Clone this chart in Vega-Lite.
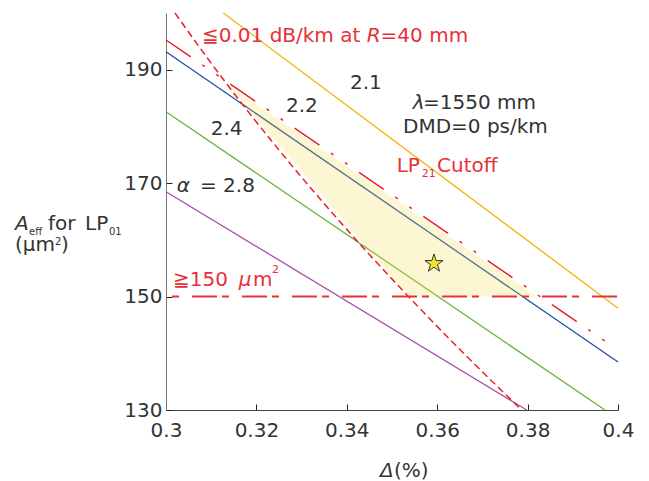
{
  "$schema": "https://vega.github.io/schema/vega-lite/v6.json",
  "width": 452,
  "height": 397,
  "autosize": {"type": "none"},
  "padding": {"left": 166, "top": 13, "right": 31, "bottom": 71},
  "background": "white",
  "config": {"view": {"stroke": null}, "font": "DejaVu Sans"},
  "datasets": {
    "lines": [
      {"series": "2.1", "x": 0.31268, "y": 200},
      {"series": "2.1", "x": 0.4, "y": 147.95},
      {"series": "2.2", "x": 0.3, "y": 193.18},
      {"series": "2.2", "x": 0.4, "y": 138.46},
      {"series": "2.4", "x": 0.3, "y": 182.6},
      {"series": "2.4", "x": 0.39712, "y": 130},
      {"series": "2.8", "x": 0.3, "y": 168.49},
      {"series": "2.8", "x": 0.3798, "y": 130}
    ],
    "bend": [
      {"x": 0.30199, "y": 200.0},
      {"x": 0.30947, "y": 191.72},
      {"x": 0.31668, "y": 184.14},
      {"x": 0.32499, "y": 175.85},
      {"x": 0.33429, "y": 167.03},
      {"x": 0.34409, "y": 158.21},
      {"x": 0.35365, "y": 150.0},
      {"x": 0.36513, "y": 140.58},
      {"x": 0.37869, "y": 130.0}
    ],
    "cutoff": [
      {"x": 0.3, "y": 195.24},
      {"x": 0.39786, "y": 141.76}
    ],
    "h150": [
      {"x": 0.3, "y": 150},
      {"x": 0.4, "y": 150}
    ],
    "region": [
      {"x": 0.31372, "y": 187.31, "y2": 187.31},
      {"x": 0.35365, "y": 165.5, "y2": 150},
      {"x": 0.38201, "y": 150, "y2": 150}
    ],
    "star": [{"x": 0.35929, "y": 155.83}],
    "txtBlack": [
      {"x": 0.34071, "y": 186.55, "t": "2.1"},
      {"x": 0.32655, "y": 182.6, "t": "2.2"},
      {"x": 0.30989, "y": 178.49, "t": "2.4"},
      {"x": 0.35686, "y": 183.02, "t": "=1550 mm"},
      {"x": 0.35243, "y": 178.79, "t": "DMD=0 ps/km"},
      {"x": 0.30752, "y": 168.49, "t": "= 2.8"},
      {"x": 0.27389, "y": 161.74, "t": "for"},
      {"x": 0.28208, "y": 161.74, "t": "LP"},
      {"x": 0.26659, "y": 158.04, "t": "(μm"},
      {"x": 0.27677, "y": 158.04, "t": ")"},
      {"x": 0.35044, "y": 118.24, "t": "(%)"}
    ],
    "txtBlackItalic": [
      {"x": 0.35458, "y": 183.02, "t": "λ"},
      {"x": 0.30237, "y": 168.49, "t": "α"},
      {"x": 0.26659, "y": 161.74, "t": "A"},
      {"x": 0.34735, "y": 118.24, "t": "Δ"}
    ],
    "txtBlackSmall": [
      {"x": 0.26969, "y": 160.86, "t": "eff"},
      {"x": 0.28739, "y": 160.86, "t": "01"},
      {"x": 0.27544, "y": 159.1, "t": "2"}
    ],
    "txtRed": [
      {"x": 0.30796, "y": 194.94, "t": "≦0.01 dB/km at"},
      {"x": 0.34748, "y": 194.94, "t": "=40 mm"},
      {"x": 0.35104, "y": 171.91, "t": "LP"},
      {"x": 0.35996, "y": 171.91, "t": "Cutoff"},
      {"x": 0.30155, "y": 151.92, "t": "≧150"},
      {"x": 0.31925, "y": 151.92, "t": "m"}
    ],
    "txtRedItalic": [
      {"x": 0.3444, "y": 194.94, "t": "R"},
      {"x": 0.31608, "y": 151.92, "t": "μ"}
    ],
    "txtRedSmall": [
      {"x": 0.35657, "y": 171.14, "t": "21"},
      {"x": 0.32345, "y": 154.1, "t": "2"}
    ]
  },
  "encoding": {
    "x": {
      "field": "x", "type": "quantitative",
      "scale": {"domain": [0.3, 0.4], "nice": false, "zero": false},
      "axis": {
        "title": null, "values": [0.3, 0.32, 0.34, 0.36, 0.38, 0.4], "format": "~g",
        "grid": false, "domainColor": "#444", "tickColor": "#222", "tickSize": -6,
        "labelFont": "DejaVu Sans", "labelFontSize": 20, "labelColor": "#333", "labelPadding": 16,
        "labelFlush": false, "labelOverlap": false
      }
    },
    "y": {
      "field": "y", "type": "quantitative",
      "scale": {"domain": [130, 200], "nice": false, "zero": false},
      "axis": {
        "title": null, "values": [130, 150, 170, 190],
        "grid": false, "domainColor": "#777", "tickColor": "#222", "tickSize": -6,
        "labelFont": "DejaVu Sans", "labelFontSize": 20, "labelColor": "#333", "labelPadding": 10,
        "labelFlush": false, "labelOverlap": false
      }
    }
  },
  "layer": [
    {
      "data": {"name": "lines"},
      "mark": {"type": "line", "strokeWidth": 1.3},
      "encoding": {
        "detail": {"field": "series"},
        "color": {"field": "series", "type": "nominal", "legend": null,
          "scale": {"domain": ["2.1", "2.2", "2.4", "2.8"], "range": ["#f2b50c", "#1f4ea6", "#6cb33a", "#a84ea6"]}}
      }
    },
    {
      "data": {"name": "bend"},
      "mark": {"type": "line", "stroke": "#e8202a", "strokeWidth": 1.5, "strokeDash": [7, 4], "interpolate": "monotone"}
    },
    {
      "data": {"name": "cutoff"},
      "mark": {"type": "line", "stroke": "#e8202a", "strokeWidth": 1.5, "strokeDash": [30, 14, 3, 14, 3, 14]}
    },
    {
      "data": {"name": "region"},
      "mark": {"type": "area", "fill": "#f4e04a", "fillOpacity": 0.25},
      "encoding": {"y2": {"field": "y2"}}
    },
    {
      "data": {"name": "h150"},
      "mark": {"type": "line", "stroke": "#e8303a", "strokeWidth": 2, "strokeDash": [25, 5, 7, 13], "strokeDashOffset": 24}
    },
    {
      "data": {"name": "star"},
      "mark": {"type": "point", "filled": true, "fill": "#f3e62a", "stroke": "#333", "strokeWidth": 1, "opacity": 1, "size": 361,
        "shape": "M0,-1L0.2245,-0.309L0.951,-0.309L0.363,0.118L0.588,0.809L0,0.382L-0.588,0.809L-0.363,0.118L-0.951,-0.309L-0.2245,-0.309Z"}
    },
    {
      "data": {"name": "txtBlack"},
      "mark": {"type": "text", "font": "DejaVu Sans", "fontSize": 20, "fill": "#333", "align": "left", "baseline": "alphabetic"},
      "encoding": {"text": {"field": "t"}}
    },
    {
      "data": {"name": "txtBlackItalic"},
      "mark": {"type": "text", "font": "DejaVu Sans", "fontSize": 20, "fontStyle": "italic", "fill": "#333", "align": "left", "baseline": "alphabetic"},
      "encoding": {"text": {"field": "t"}}
    },
    {
      "data": {"name": "txtBlackSmall"},
      "mark": {"type": "text", "font": "DejaVu Sans", "fontSize": 10, "fill": "#333", "align": "left", "baseline": "alphabetic"},
      "encoding": {"text": {"field": "t"}}
    },
    {
      "data": {"name": "txtRed"},
      "mark": {"type": "text", "font": "DejaVu Sans", "fontSize": 20, "fill": "#e8303a", "align": "left", "baseline": "alphabetic"},
      "encoding": {"text": {"field": "t"}}
    },
    {
      "data": {"name": "txtRedItalic"},
      "mark": {"type": "text", "font": "DejaVu Sans", "fontSize": 20, "fontStyle": "italic", "fill": "#e8303a", "align": "left", "baseline": "alphabetic"},
      "encoding": {"text": {"field": "t"}}
    },
    {
      "data": {"name": "txtRedSmall"},
      "mark": {"type": "text", "font": "DejaVu Sans", "fontSize": 11, "fill": "#e8303a", "align": "left", "baseline": "alphabetic"},
      "encoding": {"text": {"field": "t"}}
    }
  ]
}
